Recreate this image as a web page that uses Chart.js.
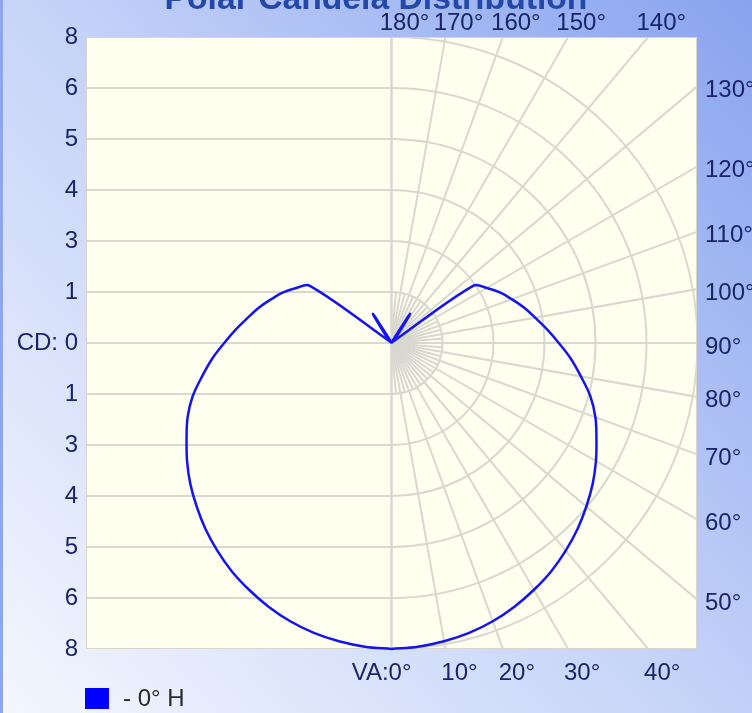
<!DOCTYPE html>
<html><head><meta charset="utf-8">
<script src="https://cdn.jsdelivr.net/npm/chart.js@4/dist/chart.umd.min.js"></script>
<style>html,body{margin:0;padding:0;overflow:hidden;background:#fff}canvas{display:block}</style>
</head><body>
<canvas id="c" width="752" height="713"></canvas>
<script>
// ---- data ----
const titleText = 'Polar Candela Distribution';
const seriesLabel = '0° H';
const verticalAngles = [0,5,10,15,20,25,30,35,40,45,50,55,60,65,70,75,80,85,90,95,100,105,110,115,120,125,130,135,140,147.5,150,155,160,165,170,175,180];
const candela0H = [7.70,7.67,7.62,7.55,7.45,7.32,7.17,7.01,6.82,6.62,6.40,6.18,5.94,5.69,5.46,5.18,4.84,4.53,4.21,3.93,3.67,3.45,3.22,3.01,2.77,2.52,0.08,0.02,0.15,0.87,0.20,0.03,0.02,0.02,0.02,0.02,0.02];
const cdMax = 7.7;
const cdDivisions = 6;
const cdTickLabels = ['8','6','5','4','3','1','CD: 0','1','3','4','5','6','8']; // top to bottom
const bottomAngles = [0,10,20,30,40];
const bottomAngleLabels = ['VA:0°','10°','20°','30°','40°'];
const rightAngles = [50,60,70,80,90,100,110,120,130];
const rightAngleLabels = ['50°','60°','70°','80°','90°','100°','110°','120°','130°'];
const topAngles = [140,150,160,170,180];
const topAngleLabels = ['140°','150°','160°','170°','180°'];

// ---- build points (right half 0..180, mirrored left half back to 0) ----
const rad = d => d * Math.PI / 180;
const pts = [];
for (let i = 0; i < verticalAngles.length; i++) {
  const t = rad(verticalAngles[i]), c = candela0H[i];
  pts.push({x: c * Math.sin(t), y: -c * Math.cos(t)});
}
for (let i = verticalAngles.length - 2; i >= 0; i--) {
  const t = rad(verticalAngles[i]), c = candela0H[i];
  pts.push({x: -c * Math.sin(t), y: -c * Math.cos(t)});
}
const yTickValues = [];
for (let k = -cdDivisions; k <= cdDivisions; k++) yTickValues.push(cdMax * k / cdDivisions);

const FONT = '"Liberation Sans", Arial, sans-serif';
const LABEL_COLOR = '#1a2468';
const GRID = '#d8d8d1';

const polarPlugin = {
  id: 'polarGrid',
  beforeDraw(chart) {
    const {ctx, chartArea: a, scales: {x, y}} = chart;
    ctx.save();
    const g = ctx.createLinearGradient(0, chart.height, chart.width, 0);
    g.addColorStop(0, '#f4f7fe');
    g.addColorStop(0.5, '#c5d3f8');
    g.addColorStop(1, '#88a3ef');
    ctx.fillStyle = g; ctx.fillRect(0, 0, chart.width, chart.height);
    ctx.fillStyle = '#8da6ee'; ctx.fillRect(0, 0, 3, chart.height);
    ctx.fillStyle = '#fffff0';
    ctx.fillRect(a.left, a.top, a.right - a.left, a.bottom - a.top);
    ctx.beginPath(); ctx.rect(a.left, a.top, a.right - a.left, a.bottom - a.top); ctx.clip();
    const cx = x.getPixelForValue(0), cy = y.getPixelForValue(0);
    ctx.strokeStyle = GRID; ctx.lineWidth = 2;
    // horizontal lines on the left half
    yTickValues.forEach(v => {
      const py = y.getPixelForValue(v);
      ctx.beginPath(); ctx.moveTo(a.left, py); ctx.lineTo(cx, py); ctx.stroke();
    });
    // vertical centre line
    ctx.beginPath(); ctx.moveTo(cx, a.top); ctx.lineTo(cx, a.bottom); ctx.stroke();
    // semicircles on the right half
    for (let k = 1; k <= cdDivisions; k++) {
      const r = y.getPixelForValue(0) - y.getPixelForValue(cdMax * k / cdDivisions);
      ctx.beginPath(); ctx.arc(cx, cy, r, -Math.PI / 2, Math.PI / 2); ctx.stroke();
    }
    // radial lines
    for (let d = 0; d <= 180; d += 5) {
      const t = rad(d);
      const R = (d % 10 === 0) ? cdMax * 2 : cdMax / cdDivisions;
      ctx.beginPath(); ctx.moveTo(cx, cy);
      ctx.lineTo(x.getPixelForValue(R * Math.sin(t)), y.getPixelForValue(-R * Math.cos(t)));
      ctx.stroke();
    }
    ctx.restore();
    ctx.save();
    ctx.strokeStyle = '#d6d6cc'; ctx.lineWidth = 1;
    ctx.strokeRect(a.left + 0.5, a.top + 0.5, a.right - a.left - 1, a.bottom - a.top - 1);
    ctx.restore();
  },
  afterDraw(chart) {
    const {ctx, chartArea: a, scales: {x, y}} = chart;
    const cx = x.getPixelForValue(0), cy = y.getPixelForValue(0);
    ctx.save();
    ctx.fillStyle = LABEL_COLOR;
    ctx.font = '24px ' + FONT;
    ctx.textBaseline = 'middle';
    // bottom labels
    bottomAngles.forEach((d, i) => {
      const ix = cx + (a.bottom - cy) * Math.tan(rad(d));
      if (d === 0) { ctx.textAlign = 'right'; ctx.fillText(bottomAngleLabels[i], ix + 20, a.bottom + 24); }
      else { ctx.textAlign = 'center'; ctx.fillText(bottomAngleLabels[i], ix + 14, a.bottom + 24); }
    });
    // top labels
    ctx.textAlign = 'center';
    topAngles.forEach((d, i) => {
      const ix = cx + (cy - a.top) * Math.tan(rad(180 - d));
      ctx.fillText(topAngleLabels[i], ix + 13, a.top - 14);
    });
    // right labels
    ctx.textAlign = 'left';
    rightAngles.forEach((d, i) => {
      const iy = cy + (a.right - cx) / Math.tan(rad(d));
      ctx.fillText(rightAngleLabels[i], a.right + 8, iy + 4);
    });
    // title (partly above the canvas)
    ctx.fillStyle = '#2448a8';
    let fs = 24;
    ctx.font = 'bold ' + fs + 'px ' + FONT;
    fs = fs * 423 / ctx.measureText(titleText).width;
    ctx.font = 'bold ' + fs + 'px ' + FONT;
    ctx.textAlign = 'center'; ctx.textBaseline = 'alphabetic';
    ctx.fillText(titleText, 376, 9);
    // legend
    ctx.fillStyle = '#0000ff';
    ctx.fillRect(85, 688, 24, 21);
    ctx.fillStyle = '#2a2a2a';
    ctx.font = '24px ' + FONT;
    ctx.textAlign = 'left'; ctx.textBaseline = 'middle';
    ctx.fillText('- ' + chart.data.datasets[0].label, 123, 699);
    ctx.restore();
  }
};

new Chart(document.getElementById('c'), {
  type: 'scatter',
  data: {
    datasets: [{
      label: seriesLabel,
      data: pts,
      showLine: true,
      borderColor: '#1414f2',
      borderWidth: 2.5,
      pointRadius: 0,
      tension: 0.35,
      fill: false,
      clip: false,
      borderJoinStyle: 'round'
    }]
  },
  options: {
    responsive: false,
    animation: false,
    devicePixelRatio: 1,
    layout: {padding: {left: 0, top: 37, right: 55, bottom: 64}},
    plugins: {legend: {display: false}, title: {display: false}, tooltip: {enabled: false}},
    scales: {
      x: {type: 'linear', display: false, min: -cdMax * 611 / 612, max: cdMax * 611 / 612},
      y: {
        type: 'linear', min: -cdMax, max: cdMax,
        afterBuildTicks: s => { s.ticks = yTickValues.map(v => ({value: v})); },
        afterFit: s => { s.width = 86; },
        grid: {display: false, drawTicks: false},
        border: {display: false},
        ticks: {
          padding: 8,
          color: LABEL_COLOR,
          font: {family: FONT, size: 24},
          callback: (v, i) => cdTickLabels[cdTickLabels.length - 1 - i]
        }
      }
    }
  },
  plugins: [polarPlugin]
});
</script>
</body></html>
